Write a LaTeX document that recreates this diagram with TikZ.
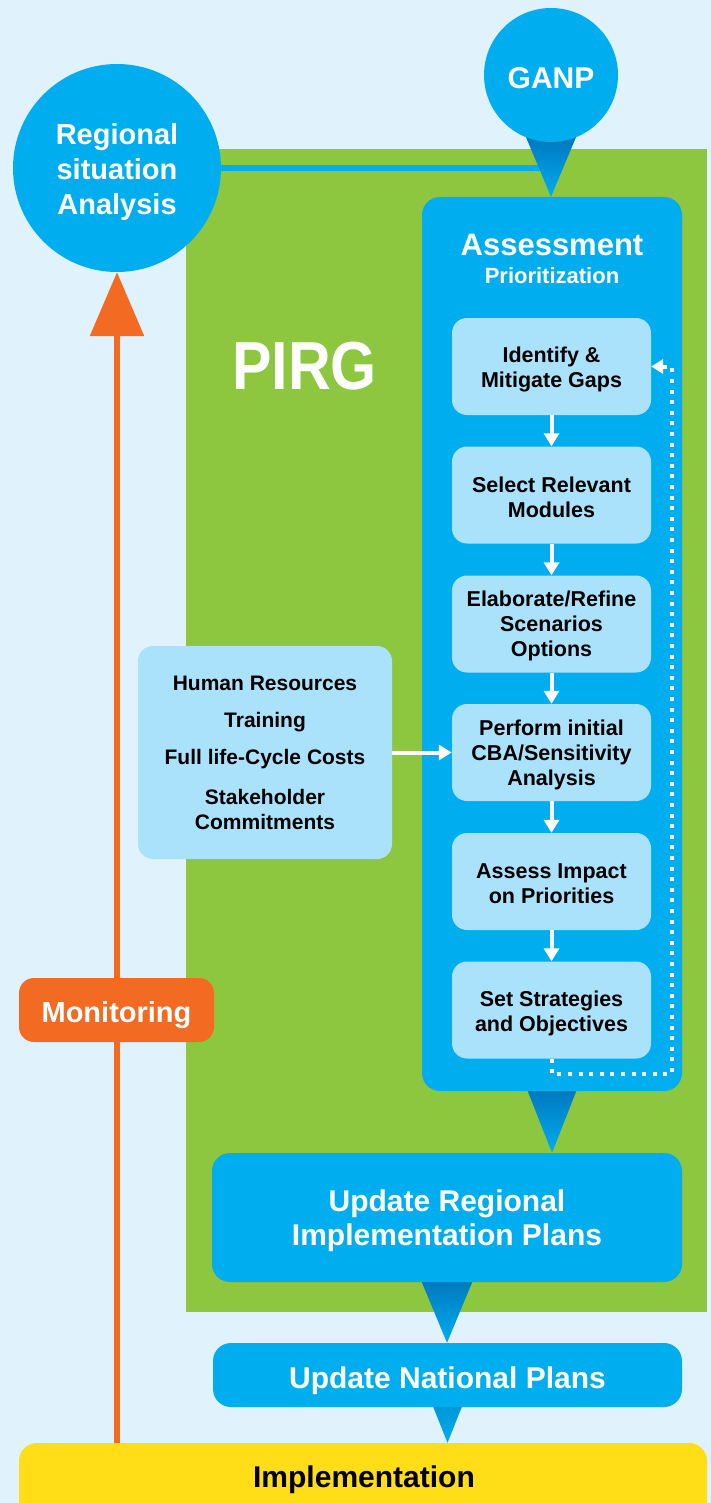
\documentclass[tikz,border=0pt]{standalone}
\usepackage{fontspec}
\setmainfont{Liberation Sans}
\usetikzlibrary{arrows.meta,calc}
\definecolor{bgc}{HTML}{E0F2FB}
\definecolor{gc}{HTML}{8DC63F}
\definecolor{bc}{HTML}{00AEEF}
\definecolor{dbc}{HTML}{0077BE}
\definecolor{mbc}{HTML}{0096D6}
\definecolor{lbc}{HTML}{ABE2FB}
\definecolor{oc}{HTML}{F36A22}
\definecolor{yc}{HTML}{FFDD17}
\newcommand\fsz[2]{\fontsize{#1}{#2}\selectfont}
\tikzset{
  lbox/.style={fill=lbc, rounded corners=15pt, minimum width=199pt, minimum height=97pt, inner sep=0pt},
  ltext/.style={align=center, font=\bfseries\fsz{21.5}{25}, text=black, inner sep=0pt},
  bbox/.style={fill=bc, rounded corners=18pt, inner sep=0pt},
  wtext/.style={text=white, inner sep=0pt, align=center},
  circ/.style={circle, fill=bc, inner sep=0pt},
  warrow/.style={draw=white, line width=4pt, -{Triangle[width=15pt,length=13pt]}},
  wdots/.style={draw=white, line width=4pt, dash pattern=on 4pt off 6.6pt,
    -{Triangle[width=14pt,length=12pt]}},
  ptr/.style={top color=dbc, bottom color=bc},
  ptrl/.style={top color=mbc, bottom color=bc},
}
\begin{document}
\begin{tikzpicture}[x=1pt,y=-1pt]
\fill[bgc] (0,0) rectangle (711,1503);
\useasboundingbox (0,0) rectangle (711,1503);
\fill[gc] (186,149) rectangle (707,1312);

% invisible anchor nodes
\path (117,168) node[circ, minimum size=208pt, fill=none] (reg) {};
\path (551,75) node[circ, minimum size=134pt, fill=none] (ganp) {};
\path (552,644) node[minimum width=260pt, minimum height=894pt, inner sep=0pt] (assess) {};
\path (447,1217.5) node[minimum width=470pt, minimum height=129pt, inner sep=0pt] (upr) {};
\path (447.5,1375) node[minimum width=469pt, minimum height=64pt, inner sep=0pt] (upn) {};
\path (363,1481) node[minimum width=688pt, minimum height=76pt, inner sep=0pt] (impl) {};

% connector bar and pointers
\draw[bc, line width=6pt] (reg.center) -- (reg.center -| ganp.center);
\shade[ptr] ($(ganp.south)+(-25,-5)$) -- ($(ganp.south)+(25,-5)$) -- (ganp.south |- assess.north) -- cycle;
\shade[ptr] ($(assess.south)+(-25,-2)$) -- ($(assess.south)+(25,-2)$) -- (assess.south |- upr.north) -- cycle;
\shade[ptr] ($(upr.south)+(-26,-2)$) -- ($(upr.south)+(26,-2)$) -- (upr.south |- upn.north) -- cycle;
\shade[ptrl] ($(upn.south)+(-15,-2)$) -- ($(upn.south)+(15,-2)$) -- (upn.south |- impl.north) -- cycle;

% circles
\node[circ, minimum size=208pt] (regc) at (117,168) {};
\node[wtext, font=\bfseries\fsz{29}{35}] (regt) at (117,172) {Regional\\situation\\Analysis};
\node[circ, minimum size=134pt] (ganpc) at (551,75) {};
\node[wtext, font=\bfseries\fsz{30}{30}] (ganpt) at (551,78) {GANP};

% PIRG label
\node[text=white, inner sep=0pt] (pirg) at (304.5,366) {\scalebox{0.87}[1]{\bfseries\fsz{68}{68}PIRG}};

% assessment box
\node[fill=bc, rounded corners=18pt, minimum width=260pt, minimum height=894pt, inner sep=0pt] (assessbox) at (552,644) {};
\node[wtext, font=\bfseries\fsz{31}{31}] (asst) at (552,245) {Assessment};
\node[wtext, font=\bfseries\fsz{22}{22}] (prio) at (552,276) {Prioritization};

% inner steps
\node[lbox] (b1) at (551.5,366.5) {};
\node[ltext] (b1t) at (551.5,369.5) {Identify \&\\Mitigate Gaps};
\node[lbox] (b2) at (551.5,495) {};
\node[ltext] (b2t) at (551.5,497) {Select Relevant\\Modules};
\node[lbox] (b3) at (551.5,624) {};
\node[ltext] (b3t) at (551.5,626) {Elaborate/Refine\\Scenarios\\Options};
\node[lbox] (b4) at (551.5,752.5) {};
\node[ltext] (b4t) at (551.5,755) {Perform initial\\CBA/Sensitivity\\Analysis};
\node[lbox] (b5) at (551.5,881.5) {};
\node[ltext] (b5t) at (551.5,884) {Assess Impact\\on Priorities};
\node[lbox] (b6) at (551.5,1010) {};
\node[ltext] (b6t) at (551.5,1013) {Set Strategies\\and Objectives};

\draw[warrow] (b1.south) -- (b2.north);
\draw[warrow] (b2.south) -- (b3.north);
\draw[warrow] (b3.south) -- (b4.north);
\draw[warrow] (b4.south) -- (b5.north);
\draw[warrow] (b5.south) -- (b6.north);
\coordinate (dr) at (672,1074);
\draw[wdots] (b6.south) |- (dr) |- (b1.east);

% left inputs box
\node[fill=lbc, rounded corners=15pt, minimum width=254pt, minimum height=213pt, inner sep=0pt,
  align=center, font=\bfseries\fsz{21}{25}] (inputs) at (265,752.5)
  {Human Resources\\[12pt]Training\\[12pt]Full life-Cycle Costs\\[15pt]Stakeholder\\Commitments};
\draw[warrow] (inputs.east) -- (b4.west);

% update boxes
\node[bbox, minimum width=470pt, minimum height=129pt] (uprb) at (447,1217.5) {};
\node[wtext, font=\bfseries\fsz{30}{34}] (uprt) at (447,1220.5) {Update Regional\\Implementation Plans};
\node[bbox, minimum width=469pt, minimum height=64pt] (upnb) at (447.5,1375) {};
\node[wtext, font=\bfseries\fsz{30}{30}] (upnt) at (447.5,1381) {Update National Plans};

% implementation
\node[fill=yc, rounded corners=18pt, minimum width=688pt, minimum height=76pt, inner sep=0pt] (implb) at (363,1481) {};
\node[inner sep=0pt, font=\bfseries\fsz{30}{30}] (impltext) at (364,1480) {Implementation};

% monitoring loop
\draw[oc, line width=6pt, -{Triangle[width=53pt,length=64pt]}] (regc.south |- implb.north) -- (regc.south);
\node[fill=oc, rounded corners=15pt, minimum width=195pt, minimum height=64pt, inner sep=0pt] (mon) at (116.5,1010) {};
\node[wtext, font=\bfseries\fsz{29}{29}] (mont) at (116.5,1015) {Monitoring};
\end{tikzpicture}
\end{document}
